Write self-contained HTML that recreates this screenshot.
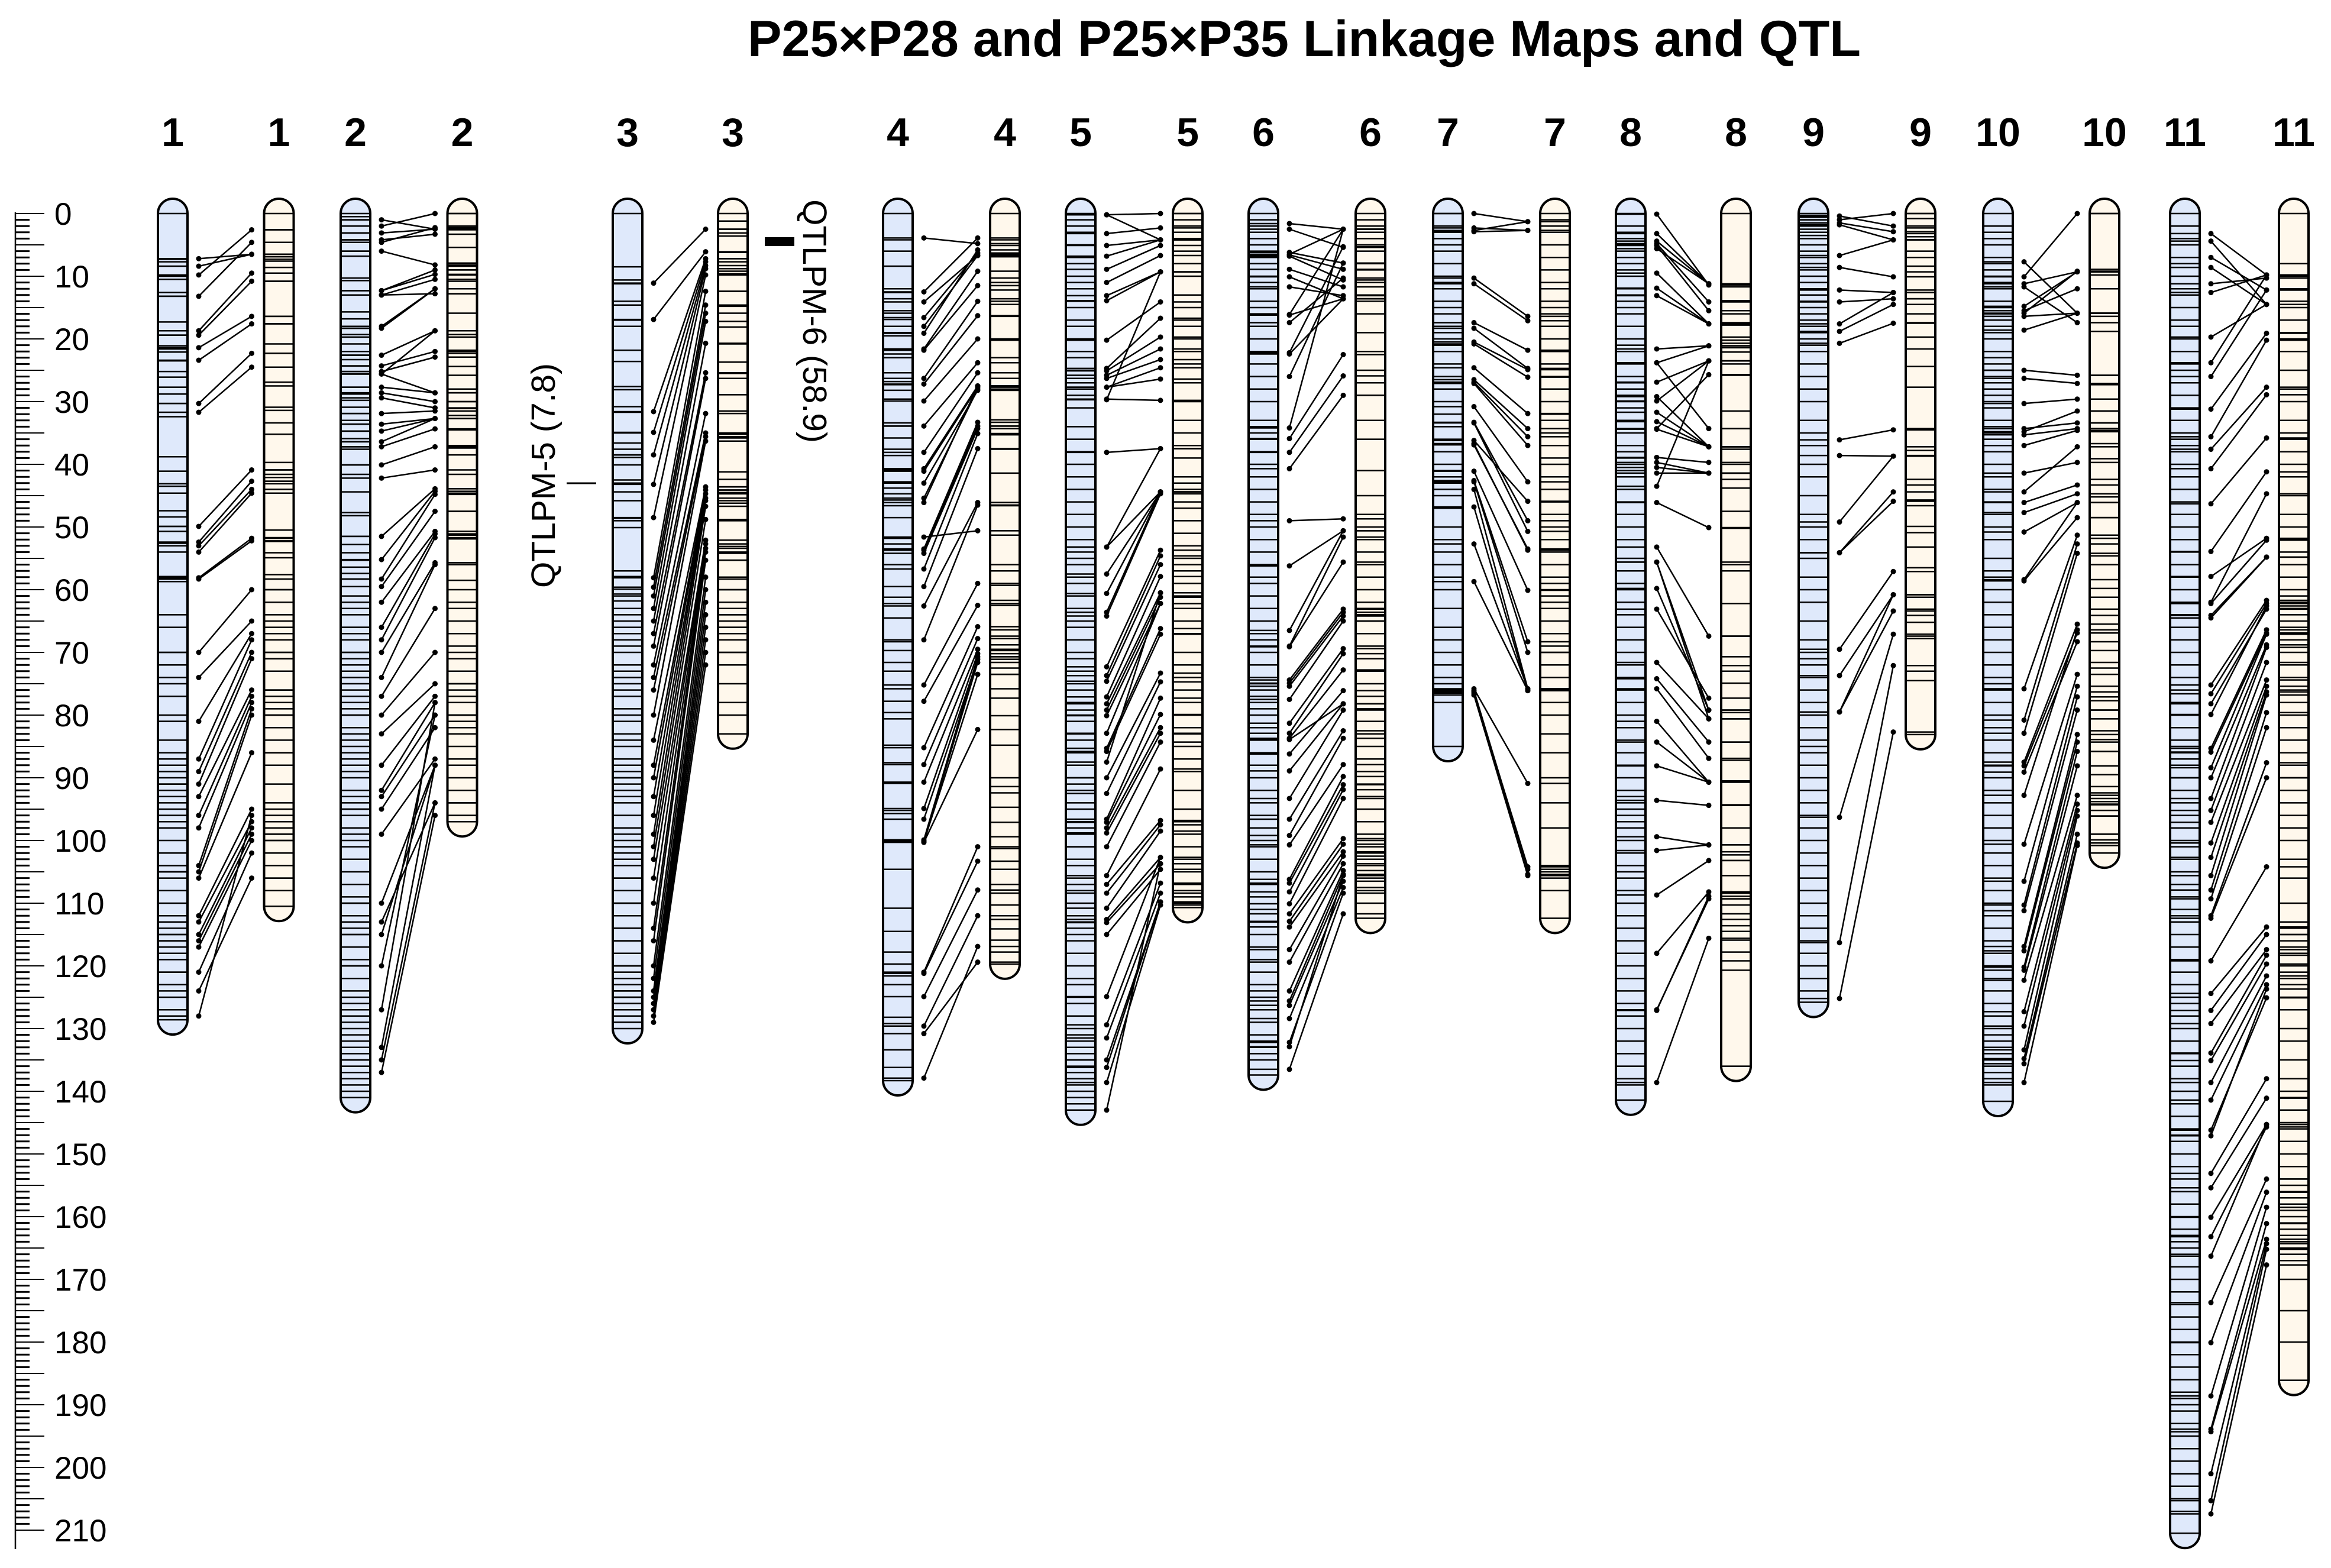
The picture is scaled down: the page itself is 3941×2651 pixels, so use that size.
<!DOCTYPE html>
<html><head><meta charset="utf-8"><style>html,body{margin:0;padding:0;background:#fff}svg{display:block}</style></head>
<body>
<svg id="chart" xmlns="http://www.w3.org/2000/svg" width="3941" height="2651" viewBox="0 0 3941 2651" font-family="'Liberation Sans', sans-serif">
<rect x="0" y="0" width="3941" height="2651" fill="#fff"/>
<text x="1264" y="95" font-size="86" font-weight="bold" textLength="1882" lengthAdjust="spacingAndGlyphs">P25×P28 and P25×P35 Linkage Maps and QTL</text>
<g id="axis"></g>
<g id="chroms"></g>
<g>
<line x1="958" x2="1008" y1="817" y2="817" stroke="#000" stroke-width="3"/>
<text transform="translate(938,804) rotate(-90)" text-anchor="middle" font-size="57">QTLPM-5 (7.8)</text>
<rect x="1293" y="401" width="50" height="15" fill="#000"/>
<text transform="translate(1358,543) rotate(90)" text-anchor="middle" font-size="57">QTLPM-6 (58.9)</text>
</g>
</svg>
<script>
const chrNames=["1","2","3","4","5","6","7","8","9","10","11"];
const blueLengths=[128.6,141,130,138.3,143,137.4,85,141.4,125.8,141.6,210.5];
const creamLengths=[110.5,97,83,119.7,110.7,112.4,112.4,136,83.1,102,186.1];
const axisTicks=[0,10,20,30,40,50,60,70,80,90,100,110,120,130,140,150,160,170,180,190,200,210];
const blueBands=[
[7.3,7.7,10.0,10.5,12.6,13.2,17.3,18.7,19.4,21.1,21.6,22.1,23.5,25.2,26.1,27.7,28.8,30.3,32.4,38.8,41.1,43.1,43.5,44.6,47.4,48.4,49.9,50.7,52.6,57.9,58.3,58.7,64,66,70,72,75,77,80,81,84,86,88,89,90,91,92,94,95,96,97,98,100,102,104,105,108,110,112,113,114,115,116,118,119,121,123,125,127],
[0.5,1.0,2.0,3.1,4.2,4.6,6.0,6.8,10.3,10.7,12.3,13.0,15.7,16.8,18.0,18.3,19.3,19.7,20.8,22.0,22.6,23.3,24.3,25.2,25.6,27.7,28.8,29.8,30.9,31.9,33.0,33.6,34.7,35.9,36.4,37.2,37.6,40.1,41.6,44.4,47.7,48.2,51.5,52.8,54.1,55.3,56.4,57.4,58.3,59.5,61,62,63,64,66,67,68,70,71,72,73,74,75,76,78,79,80,82,83,84,85,86,87,88,89,90,92,93,94,95,96,98,100,101,103,105,107,109,110,112,114,115,117,119,120,122,124,125,126,127,128,129,130,131,132,133,134,135,136,137,138,139,140],
[8.5,10.6,11.2,14.0,14.6,17.0,18.0,21.8,23.6,27.6,28.1,30.8,31.7,35.0,36.6,37.6,38.5,38.9,40.1,42.5,43.0,44.4,45.8,48.6,49.0,50.1,57.0,57.9,59.9,60.7,61.8,64,66,68,70,72,73,74,75,77,79,81,83,85,87,88,89,90,91,92,94,96,98,100,101,102,103,104,106,108,110,112,114,116,118,120,121,122,123,124,125,126,127,128,129],
[4.2,6.0,8.4,12.0,12.6,13.6,15.5,15.9,16.9,19.0,19.5,21.6,22.4,23.0,25.4,26.8,27.3,28.2,29.6,33.4,33.9,35.8,37.6,38.6,40.9,42.8,43.8,44.7,45.7,46.6,48.5,51.8,52.7,53.7,56.0,61.2,62.2,64.5,68.3,69.7,71.6,73.0,75.8,79.6,80.6,84.8,87.6,90.9,95.2,95.7,99.9,104.6,110.8,114.5,117.8,119.7,121.6,123.0,128.2,129.2,133.4,136.2],
[1,2,3,5,7,8,10,12,14,15,17,18,20,22,23,25,27,28,29,31,34,36,38,40,42,44,46,48,50,52,54,55,56,58,59,61,63,65,66,68,70,71,73,75,76,78,80,81,83,84,86,88,90,91,92,94,95,97,99,101,103,104,106,108,110,112,113,114,116,118,120,122,123,125,126,128,130,131,132,133,134,135,136,137,138,139,140,141,142],
[1,2,3,4,5,6,7,8,10,11,12,14,15,16,18,20,22,24,26,28,30,33,34,35,36,38,40,42,44,46,48,50,52,54,56,58,59,61,63,65,67,68,70,72,74,75,76,77,78,79,80,82,84,86,88,90,92,94,96,98,100,101,103,105,107,109,111,113,115,117,119,121,123,125,127,129,131,132,133,134,135],
[2,3,4,5,6,8,10,11,12,14,15,16,18,19,20,21,22,24,26,27,28,30,32,34,36,38,40,41,42,43,44,45,47,50,52,54,56,58,60,63,66,68,70,72,74,75,76,78],
[2,3,4,5,6,7,8,9,10,12,13,14,15,16,18,20,21,22,24,26,27,28,29,30,31,33,35,37,38,39,40,41,42,44,46,48,50,52,55,57,59,60,62,64,66,68,70,72,74,76,78,80,81,82,84,86,88,90,92,93,94,95,96,97,98,100,102,104,105,106,108,110,112,114,116,118,120,122,124,126,128,130,132,134,136,138,139],
[0.3,0.6,1,1.5,2,2.5,3,3.5,4,5,6,7,8,9,10,11,12,13,14,15,16,17,18,19,20,21,22,24,26,28,30,33,35,37,40,42,45,48,50,52,55,58,60,62,65,68,70,71,72,74,76,78,80,82,84,85,86,88,90,92,94,96,98,100,102,104,106,108,110,112,114,116,118,120,122,124],
[2,3,4,5,7,8,9,10,11,12,14,15,16,17,18,19,20,22,23,24,25,26,27,28,29,30,31,33,34,35,36,37,38,40,42,44,46,48,50,52,55,57,58,60,62,64,66,68,70,72,74,75,76,78,80,82,84,86,88,90,92,94,96,98,100,102,104,106,108,110,112,114,116,118,120,122,124,126,128,130,131,132,133,134,135,136,137,138,139],
[2,4,5,7,8,10,12,13,15,17,18,20,22,24,25,27,29,31,33,35,36,37,38,40,42,44,46,48,50,52,54,56,58,60,62,64,66,68,70,72,74,76,78,80,82,84,85,86,87,88,90,92,94,96,98,100,101,103,105,107,109,111,113,115,117,119,121,123,125,126,128,130,132,134,136,138,140,142,144,146,147,148,150,152,154,156,158,160,162,163,164,165,166,168,170,172,174,176,178,180,182,184,186,188,189,190,191,193,195,197,199,201,203,205,207]
];
const creamBands=[
[2.6,4.6,6.5,6.9,7.3,7.6,8.6,9.5,10.8,16.4,17.6,20.8,22.3,24.5,26.9,27.5,30.9,31.4,33.4,35.2,39.7,40.9,41.6,42.1,42.7,43.1,44.0,44.6,50.5,51.7,52.3,54.1,54.9,57.6,58.3,60,62,64,66,68,70,71,73,76,77,78,80,82,84,86,88,91,94,96,97,99,100,102,104,106,108],
[2.0,2.3,2.6,5.4,7.9,8.4,9.0,9.8,10.8,12.8,15.9,19.3,19.7,21.8,22.3,24.4,25.8,28.0,30.0,31.1,32.2,34.5,37.0,37.4,38.5,41.6,44.6,47.5,50.7,51.3,51.9,55.7,58.5,60,62,63,65,67,69,71,73,75,76,78,80,81,83,85,87,88,90,92,94,96],
[1.2,2.5,3.1,3.6,6.2,7.2,9.2,9.6,12.4,14.8,18.1,20.8,23.7,25.5,26.3,28.9,31.5,35.2,35.8,41.2,42.4,43.6,44.1,44.5,46.2,49.0,52.1,53.1,54.2,55.3,58.3,60,62,63,64,65,66,67,70,72,75,78,80],
[4.2,5.1,6.5,6.9,10.3,11.0,12.2,13.6,14.5,16.4,20.2,23.0,25.4,26.3,27.5,28.2,32.9,33.9,34.3,35.3,37.6,41.4,46.1,46.6,51.3,56.0,57.0,59.3,61.7,62.2,66.4,67.4,68.8,69.7,70.7,72.5,73.5,75.8,77.3,80.1,84.8,90.0,91.4,92.4,94.7,97.1,99.4,101.3,104.6,107.0,108.4,110.3,112.6,114.1,115.9,117.8],
[1,2,3,4,6,8,10,13,15,17,18,20,22,24,27,30,33,35,37,39,42,43,44,46,47,49,51,53,55,57,59,61,63,65,67,70,72,74,76,78,80,83,85,87,89,92,95,97,99,101,103,105,107,108,109,110],
[1,2,3,4,5,6,8,9,11,13,14,16,19,22,25,27,29,33,36,41,45,48,50,52,54,56,58,60,62,63,64,65,67,69,71,73,75,77,79,81,83,85,87,89,91,93,95,97,99,100,101,102,103,104,106,108,110],
[1,2,3,5,7,9,11,12,14,15,16,18,20,22,24,26,28,30,32,33,35,37,39,40,42,44,46,48,50,52,54,56,58,59,60,61,62,63,65,67,69,70,72,74,76,78,80,83,86,90,94,98,104,105,106,108],
[11.2,11.7,13.9,16.0,17.4,17.8,19.7,20.2,20.7,21.1,21.4,22.1,24.0,25.8,31.5,34.3,37.2,37.6,40.0,41.4,42.4,43.8,47.5,50.2,55.6,56.0,57.0,62.2,67.4,70.7,72.1,73.0,74.9,79.6,80.6,84.3,87.2,90.5,94.3,98.0,101.8,102.3,103.2,105.6,108.4,109.3,110.3,111.7,112.6,113.6,114.5,115.9,117.8,119.2,120.7],
[0.8,2.3,3.2,3.7,4.2,6.0,7.0,8.4,9.3,12.2,13.6,14.5,16.0,17.4,19.7,21.6,24.4,27.7,34.3,37.2,37.8,38.6,42.4,43.3,45.7,46.6,49.9,50.9,53.2,56.5,61.2,63.1,64.1,65.2,67.4,67.8,73.0,74.5],
[8.9,9.8,15.9,16.4,18.8,25.8,27.3,29.6,31.5,33.4,34.3,34.8,36.7,39.1,42.4,45.2,46.1,48.5,51.8,54.6,56.0,58.4,59.8,61.2,63.1,64.1,66.9,69.7,71.6,72.5,75.4,76.3,77.7,79.2,80.6,82.5,83.9,85.8,88.1,89.5,91.4,92.4,93.3,93.8,94.3,96.1,99.0,99.9,100.8],
[8,10,12,14,15,17,19,20,22,25,28,30,33,35,36,38,40,42,45,48,50,52,54,56,58,60,61,62,63,64,65,66,67,68,70,72,74,76,78,80,82,84,86,88,90,92,94,96,98,100,103,106,110,113,114,115,116,117,118,120,121,122,123,125,127,130,132,135,138,140,141,143,145,146,148,150,152,154,155,156,157,158,159,160,161,162,163,164,165,166,167,170,175,180]
];
const links=[
[[7.2,6.5],[8.4,6.5],[9.8,2.6],[13.2,4.6],[18.7,9.5],[19.4,10.8],[21.4,16.4],[23.4,17.6],[30.3,22.3],[31.7,24.5],[49.9,40.9],[52.4,42.7],[53.0,44.0],[54.0,44.6],[58.1,51.8],[58.3,52.2],[70,60],[74,65],[81,67],[87,68],[89,70],[91,71],[93,76],[96,77],[98,78],[104,79],[105,80],[106,86],[112,95],[113,97],[115,98],[116,99],[117,100],[121,102],[124,106],[128,96]],
[[1.0,2.5],[2.0,0],[3.1,2.5],[4.2,3.3],[4.6,2.25],[6.0,8.2],[12.3,9.0],[12.3,9.7],[13.0,10.5],[13.0,12.8],[18.0,12.0],[18.3,12.0],[22.6,18.7],[24.3,22.0],[25.2,22.9],[25.6,18.7],[25.6,28.6],[27.7,28.6],[28.6,30.0],[29.4,31.0],[31.9,31.5],[33.6,32.7],[34.7,32.7],[36.4,32.7],[37.2,34.35],[40.1,37.2],[42.2,40.9],[51.5,43.9],[55.2,44.3],[58.3,44.8],[59.5,47.5],[62,50.7],[66,51.1],[68,51.7],[70,55.7],[74,56],[77,63],[80,70],[83,75],[88,77],[92,78],[93,80],[95,82],[99,87],[110,88],[113,94],[115,88],[120,80],[127,78],[133,88],[135,94],[137,96]],
[[11.1,2.5],[16.9,6.1],[31.6,7.2],[34.9,7.7],[38.5,8.3],[43.2,8.8],[48.5,9.8],[58.1,12.4],[59.6,14.6],[61,15.9],[63,17.2],[65,20.7],[67,25.4],[69,26.3],[72,31.9],[74,35.0],[76,35.6],[80,36.3],[84,43.6],[88,44.1],[90,44.7],[93,45.4],[96,45.8],[99,46.7],[101,48.8],[103,52.1],[106,52.7],[110,53.4],[114,54.0],[116,55.3],[120,58],[122,60],[124,62],[125,64],[126,66],[127,68],[128,70],[129,72]],
[[3.9,4.8],[12.5,3.9],[14.1,6.7],[16.6,6.3],[18.0,6.7],[19.1,5.8],[21.6,9.2],[21.8,11.5],[26.3,14.0],[27.2,16.3],[29.9,20.0],[33.9,23.8],[38.1,25.4],[40.7,27.5],[41.1,27.7],[43.0,28.2],[45.4,28.0],[46.1,27.5],[51.6,50.6],[53.5,33.3],[53.7,33.9],[54.2,34.3],[56.7,35.1],[59.5,37.5],[62.6,46.1],[68.0,46.5],[75.2,59.0],[77.8,62.5],[85.2,65.9],[87.9,67.8],[90.7,69.5],[94.9,70.2],[96.6,71.1],[99.9,70.7],[100.1,71.6],[100.2,73.5],[100.3,82.3],[121.0,101.0],[121.2,103.3],[124.9,107.9],[129.6,112.0],[130.8,119.4],[137.9,116.9]],
[[0.2,0],[0.2,4.2],[3.2,2.3],[5.1,4.2],[6.8,4.2],[8.9,5.1],[11.0,6.7],[13.1,9.3],[13.9,9.3],[20.2,14.1],[24.7,16.7],[25.1,19.7],[25.8,21.6],[26.3,23.3],[27.7,24.6],[27.7,26.4],[29.6,29.8],[29.7,9.3],[38.1,37.5],[53.2,37.5],[53.2,44.4],[57.5,44.4],[60.6,44.4],[63.6,44.4],[64.2,44.7],[72.3,53.7],[73.7,54.6],[74.6,56.0],[77.1,57.9],[78.2,60.5],[79.2,61.2],[80.1,62.2],[82.9,62.2],[85.3,66.2],[85.8,67.1],[87.5,60.5],[90.0,73.3],[92.5,74.7],[96.6,77.3],[97.1,79.9],[98.0,82.0],[98.8,82.9],[101.0,84.3],[105.6,88.6],[107.0,96.8],[108.4,97.5],[110.8,98.5],[112.6,102.7],[113.1,103.7],[115.0,104.6],[124.9,102.7],[129.4,106.8],[131.5,108.4],[135.0,109.8],[136.2,109.8],[138.6,110.3],[143.0,103.7]],
[[1.6,2.5],[2.5,5.4],[6.2,7.9],[6.5,2.5],[6.6,8.9],[6.8,10.6],[8.9,11.7],[10.1,13.6],[11.7,13.1],[16.1,2.5],[16.2,13.6],[17.4,10.3],[22.2,5.3],[22.4,13.6],[26.0,7.9],[34.2,2.5],[35.9,22.5],[38.1,25.9],[40.7,29.0],[49.0,48.7],[56.2,50.6],[66.5,50.6],[69.0,51.6],[69.1,55.6],[74.4,63.1],[74.9,63.6],[75.4,64.2],[77.5,65.0],[81.3,69.4],[82.9,70.2],[83.9,78.2],[83.7,72.8],[86.2,76.1],[88.9,78.2],[93.3,79.2],[96.6,82.5],[99.2,83.7],[100.7,87.9],[106.2,89.8],[106.8,91.1],[108.2,91.9],[110.1,93.3],[111.7,99.7],[112.9,100.6],[113.8,101.8],[117.4,102.5],[119.4,103.7],[124.0,104.8],[125.6,105.4],[126.3,106.5],[128.4,107.5],[132.2,108.4],[132.9,105.6],[136.5,111.7]],
[[0,1.3],[2.3,2.7],[2.7,1.3],[2.9,2.7],[10.3,16.4],[11.2,17.1],[17.4,21.8],[18.3,24.7],[20.5,24.9],[20.8,26.1],[24.6,31.9],[26.5,34.3],[26.9,35.6],[27.1,37.0],[30.8,42.8],[33.3,49.0],[33.4,50.7],[36.2,45.9],[36.7,53.7],[36.9,53.5],[41.1,60.1],[42.6,68.3],[42.8,70.0],[44.0,75.8],[46.8,76.1],[52.7,75.8],[58.7,76.1],[75.8,90.9],[76.1,104.6],[76.3,105.4],[76.8,105.6],[76.5,104.2]],
[[0.1,11.4],[3.2,11.2],[4.4,11.2],[4.8,14.1],[5.1,15.5],[5.6,11.2],[9.5,17.6],[11.9,17.6],[13.1,17.6],[21.6,21.1],[23.8,21.1],[23.8,34.3],[26.9,23.5],[29.2,37.2],[29.9,23.5],[31.7,37.2],[33.2,37.2],[34.3,25.7],[34.4,37.2],[38.9,39.7],[39.7,41.4],[40.5,41.4],[41.4,41.4],[43.5,23.5],[46.1,50.1],[53.2,67.4],[55.6,79.2],[55.6,80.6],[59.8,79.2],[63.1,77.3],[71.6,80.6],[74.2,84.3],[75.8,86.9],[81.0,90.7],[84.3,90.7],[88.1,90.7],[93.6,94.4],[99.4,100.7],[101.6,100.7],[108.7,103.2],[118.0,108.2],[127.0,109.3],[127.1,108.9],[138.6,115.6]],
[[0.4,2.0],[1.0,0],[1.5,2.9],[1.8,4.2],[6.7,4.2],[8.6,10.1],[12.2,12.6],[14.1,13.6],[17.6,12.6],[18.8,14.5],[20.7,17.5],[36.1,34.5],[38.6,38.7],[49.2,38.7],[54.1,44.4],[54.1,45.9],[69.5,57.1],[73.7,60.8],[79.5,60.8],[79.5,63.4],[96.3,67.1],[116.3,72.1],[125.2,82.7]],
[[7.7,15.9],[10.1,0],[11.2,9.3],[11.7,17.4],[14.8,9.3],[15.5,12.0],[15.9,9.2],[16.4,15.9],[18.6,15.9],[25.0,25.8],[26.3,27.1],[30.3,29.6],[34.3,33.4],[34.8,31.5],[35.3,34.3],[37.0,34.6],[41.4,39.7],[44.4,37.2],[46.1,43.3],[47.7,44.7],[50.8,46.1],[58.4,46.1],[58.6,48.5],[75.8,51.3],[80.8,52.7],[82.9,54.2],[87.5,65.5],[88.1,66.9],[89.1,68.3],[92.8,66.4],[100.6,73.5],[106.5,75.4],[110.3,77.1],[111.2,79.2],[116.9,83.1],[117.6,84.3],[120.2,85.8],[120.7,88.1],[122.3,92.8],[127.3,94.2],[129.6,95.2],[133.4,96.1],[134.8,99.0],[135.6,100.4],[138.6,100.8]],
[[3.2,9.8],[4.4,14.5],[7.0,12.2],[8.6,14.5],[11.2,10.3],[12.6,9.8],[19.7,14.5],[23.8,9.8],[26.0,12.2],[31.2,19.1],[35.6,20.2],[37.6,27.7],[40.7,28.9],[46.3,35.8],[53.9,41.2],[57.9,51.8],[62.0,44.7],[62.2,52.1],[64.1,54.8],[64.5,54.8],[75.2,61.7],[76.6,62.2],[78.2,63.1],[79.9,62.6],[85.3,66.4],[85.9,66.9],[88.4,67.1],[90.0,68.8],[93.3,69.2],[95.2,71.6],[97.1,74.4],[100.4,75.4],[102.7,76.3],[105.6,76.8],[107.9,79.6],[109.3,82.0],[112.0,87.6],[112.4,90.0],[119.2,104.2],[124.4,113.8],[127.1,115.0],[129.2,117.4],[133.9,118.3],[135.1,119.7],[138.6,121.6],[141.4,123.0],[146.2,125.1],[147.1,123.7],[153.1,138.0],[155.4,141.1],[160.1,145.3],[163.2,145.7],[166.3,145.3],[173.7,154.0],[180.1,156.1],[188.6,158.5],[193.9,161.1],[194.3,163.6],[201.0,164.3],[205.3,165.2],[207.4,167.7]]
];
const blueCenters=[292,601,1061,1518,1827,2136,2448,2757,3066,3378,3694];
const creamCenters=[471.5,781.5,1239,1699,2008,2317,2629,2935,3247,3558,3878];

const NS="http://www.w3.org/2000/svg";
const Y0=361, PX=10.6, HALF=25;
function yScale(cm){return Y0+cm*PX;}
function mk(tag,attrs,parent){const e=document.createElementNS(NS,tag);for(const k in attrs)e.setAttribute(k,attrs[k]);parent.appendChild(e);return e;}

// axis
const axis=document.getElementById('axis');
const axLine=mk('line',{x1:26,x2:26,y1:yScale(0)-2,y2:yScale(210)+32,stroke:'#000','stroke-width':2.5},axis);


for(let c=0;c<=210;c++){
  const major=c%5===0;
  const t=mk('line',{x1:26,x2:major?75:50,y1:yScale(c),y2:yScale(c),stroke:'#000','stroke-width':major?2:3},axis);
  
  
}
axisTicks.forEach(v=>{
  const t=mk('text',{x:92,y:yScale(v)+19,'font-size':53},axis);
  t.textContent=String(v);
  
  
});

const root=document.getElementById('chroms');
function drawChrom(g,cx,len,bands,fill,name){
  const top=yScale(0), bot=yScale(len);
  const body=mk('rect',{x:cx-HALF,y:top-HALF,width:HALF*2,height:bot-top+HALF*2,rx:HALF,ry:HALF,fill:fill,stroke:'none'},g);
  
  
  bands.concat([0,len]).forEach(b=>{
    if(b<0||b>len)return;
    const l=mk('line',{x1:cx-HALF,x2:cx+HALF,y1:yScale(b),y2:yScale(b),stroke:'#000','stroke-width':2.5},g);
    
    
  });
  const out=mk('rect',{x:cx-HALF,y:top-HALF,width:HALF*2,height:bot-top+HALF*2,rx:HALF,ry:HALF,fill:'none',stroke:'#000','stroke-width':4},g);
  
  
}
chrNames.forEach((nm,i)=>{
  const g=mk('g',{},root);
  
  
  const bx=blueCenters[i], cx=creamCenters[i];
  [bx,cx].forEach((x,k)=>{
    const t=mk('text',{x:x,y:247,'font-size':68,'font-weight':'bold','text-anchor':'middle'},g);
    t.textContent=nm;
    
    
  });
  const bb=blueBands[i].concat(links[i].map(p=>p[0]));
  const cb=creamBands[i].concat(links[i].map(p=>p[1]));
  drawChrom(g,bx,blueLengths[i],bb,'#dfe9fb','p25xp28-chr'+nm);
  drawChrom(g,cx,creamLengths[i],cb,'#fff8ec','p25xp35-chr'+nm);
  const lx=bx+HALF+19, rx=cx-HALF-21;
  links[i].forEach(p=>{
    const ln=mk('line',{x1:lx,y1:yScale(p[0]),x2:rx,y2:yScale(p[1]),stroke:'#000','stroke-width':2.5},g);
    
    
    const d1=mk('circle',{cx:lx,cy:yScale(p[0]),r:4.5,fill:'#000'},g);
    
    
    const d2=mk('circle',{cx:rx,cy:yScale(p[1]),r:4.5,fill:'#000'},g);
    
    
  });
});
</script>
</body></html>
